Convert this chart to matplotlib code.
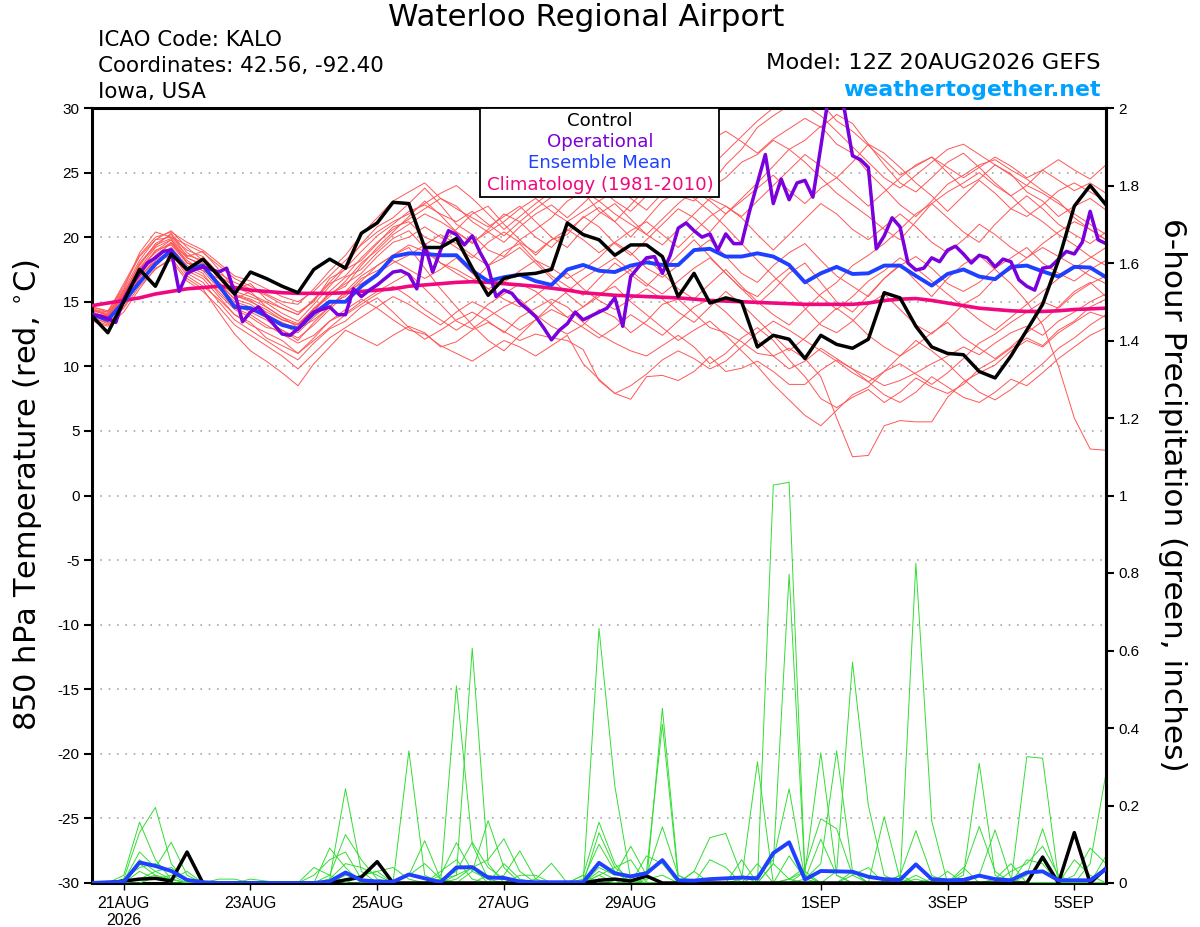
import numpy as np
import pandas as pd
import matplotlib
matplotlib.use('Agg')
import matplotlib.pyplot as plt
from matplotlib.patches import Rectangle

plt.rcParams['font.family'] = ['Liberation Sans', 'DejaVu Sans']
plt.rcParams['axes.unicode_minus'] = False
wide = ['DejaVu Sans']

# time axes: 6-hourly GEFS, 3-hourly operational run
times = pd.date_range('2026-08-20 12:00', periods=65, freq='6h')
times_op = pd.date_range('2026-08-20 12:00', periods=129, freq='3h')

tick_dates = pd.to_datetime(['2026-08-21', '2026-08-23', '2026-08-25', '2026-08-27',
                             '2026-08-29', '2026-09-01', '2026-09-03', '2026-09-05'])
tick_labels = ['21AUG\n2026', '23AUG', '25AUG', '27AUG', '29AUG', '1SEP', '3SEP', '5SEP']

# 850 hPa temperature (C)
t_control = [13.9, 12.6, 15.0, 17.5, 16.2, 18.7, 17.5, 18.3, 17.0, 15.6,
             17.3, 16.8, 16.2, 15.7, 17.5, 18.3, 17.6, 20.3, 21.1, 22.7,
             22.6, 19.2, 19.2, 19.9, 17.6, 15.5, 16.8, 17.1, 17.2, 17.5,
             21.1, 20.2, 19.8, 18.6, 19.4, 19.4, 18.5, 15.4, 17.2, 14.9,
             15.3, 15.0, 11.5, 12.4, 12.1, 10.6, 12.4, 11.7, 11.4, 12.1,
             15.7, 15.3, 13.1, 11.5, 11.0, 10.9, 9.6, 9.1, 10.8, 12.8,
             14.8, 18.2, 22.4, 24.0, 22.5]

t_mean = [14.0, 13.6, 15.0, 16.5, 17.9, 19.0, 17.5, 17.8, 16.3, 14.6,
          14.5, 13.9, 13.2, 12.9, 14.1, 15.0, 15.0, 16.2, 17.1, 18.5,
          18.75, 18.7, 18.6, 18.6, 17.4, 16.6, 16.9, 17.1, 16.6, 16.3,
          17.5, 17.85, 17.4, 17.3, 17.8, 18.05, 17.85, 17.85, 19.0, 19.1,
          18.5, 18.5, 18.75, 18.5, 17.85, 16.5, 17.2, 17.7, 17.15, 17.2,
          17.8, 17.8, 17.0, 16.25, 17.15, 17.5, 16.95, 16.75, 17.7, 17.8,
          17.35, 16.95, 17.7, 17.65, 16.9]

t_clim = [14.7, 14.9, 15.1, 15.3, 15.6, 15.8, 16.0, 16.1, 16.2, 16.1,
          15.9, 15.8, 15.7, 15.65, 15.65, 15.65, 15.7, 15.8, 15.9, 16.0,
          16.2, 16.3, 16.4, 16.5, 16.55, 16.5, 16.4, 16.3, 16.2, 16.05,
          15.9, 15.7, 15.6, 15.5, 15.45, 15.4, 15.35, 15.3, 15.2, 15.1,
          15.05, 15.0, 14.95, 14.9, 14.85, 14.8, 14.8, 14.8, 14.8, 14.9,
          15.1, 15.2, 15.25, 15.1, 14.9, 14.7, 14.5, 14.4, 14.3, 14.25,
          14.25, 14.3, 14.4, 14.45, 14.5]

t_oper = [14.0, 13.9, 13.7, 13.4, 15.2, 16.3, 17.2, 18.0, 18.4, 18.9,
          19.0, 15.8, 17.2, 17.5, 17.7, 17.5, 17.3, 17.6, 15.7, 13.45,
          14.2, 14.6, 13.9, 13.2, 12.5, 12.4, 12.9, 13.6, 14.2, 14.4,
          14.6, 14.0, 14.0, 16.0, 15.4, 15.9, 16.3, 16.8, 17.3, 17.4,
          17.1, 16.0, 19.4, 17.3, 19.0, 20.5, 20.2, 19.4, 20.1, 18.8,
          17.7, 15.4, 15.9, 15.65, 14.9, 14.4, 13.85, 13.0, 12.05, 12.8,
          13.3, 14.2, 13.6, 13.9, 14.2, 14.5, 15.3, 13.1, 16.95, 17.7,
          18.4, 18.5, 17.2, 18.6, 20.7, 21.1, 20.5, 20.0, 20.25, 19.0,
          20.25, 19.5, 19.5, 22.0, 24.2, 26.4, 22.6, 24.5, 22.9, 24.2,
          24.4, 23.1, 27.0, 31.0, 31.5, 29.8, 26.3, 26.0, 25.4, 19.1,
          20.1, 21.5, 20.8, 18.0, 17.45, 17.6, 18.4, 18.1, 19.0, 19.3,
          18.7, 18.0, 18.6, 18.4, 17.7, 18.3, 18.1, 16.7, 16.2, 15.9,
          17.6, 17.7, 18.3, 18.9, 18.7, 19.6, 22.0, 19.8, 19.5]

t_members = [
    [14.2, 13.8, 15.5, 17.8, 19.5, 20.2, 18.5, 18.9, 17.5, 16.0,
     16.4, 15.2, 14.5, 14.0, 15.2, 16.5, 17.8, 19.5, 20.8, 21.5,
     22.6, 23.8, 22.5, 21.0, 20.2, 19.0, 18.5, 19.8, 20.6, 21.5,
     22.8, 23.5, 22.0, 21.2, 22.5, 23.8, 24.6, 23.2, 22.8, 24.0,
     25.6, 26.8, 28.5, 29.4, 30.2, 31.0, 30.4, 29.0, 28.2, 27.1,
     26.0, 24.8, 25.5, 26.2, 25.0, 23.8, 24.5, 25.6, 24.9, 23.5,
     22.8, 21.6, 22.4, 23.0, 22.1],
    [13.9, 13.5, 14.8, 16.9, 18.2, 19.0, 17.6, 17.0, 15.8, 14.5,
     14.0, 13.2, 12.5, 11.8, 12.4, 13.5, 14.1, 15.0, 15.8, 16.5,
     17.2, 16.0, 14.8, 13.5, 12.9, 13.8, 14.6, 15.2, 14.0, 13.1,
     12.5, 13.2, 14.4, 13.8, 12.6, 13.5, 14.8, 15.2, 14.1, 13.0,
     12.6, 11.9, 11.0, 10.8, 11.4, 10.6, 9.2, 6.0, 3.0, 3.1,
     5.4, 5.8, 5.7, 5.7, 7.6, 8.8, 9.5, 10.1, 11.2, 12.0,
     11.5, 12.6, 13.4, 14.2, 13.8],
    [13.6, 13.2, 14.5, 16.2, 17.5, 18.4, 16.8, 16.0, 14.2, 12.5,
     11.2, 10.4, 9.5, 8.5, 10.2, 11.5, 12.8, 12.2, 11.6, 12.4,
     13.1, 12.6, 11.5, 11.9, 12.8, 13.4, 12.7, 12.0, 12.5, 12.2,
     12.0, 11.3, 8.9, 7.9, 7.45, 9.2, 9.3, 8.9, 9.6, 10.75,
     9.6, 9.85, 10.4, 9.6, 8.6, 8.6, 9.7, 10.5, 9.8, 9.2,
     8.5, 8.9, 9.5, 10.2, 10.8, 11.5, 10.9, 11.8, 12.6, 13.1,
     12.4, 13.5, 14.2, 15.0, 15.6],
    [14.5, 14.0, 15.8, 17.5, 18.9, 19.8, 18.0, 17.8, 16.5, 15.2,
     15.8, 14.6, 13.8, 13.0, 14.2, 15.8, 16.9, 17.5, 18.8, 19.9,
     20.5, 19.2, 18.0, 17.2, 16.5, 17.8, 18.9, 19.5, 18.2, 17.0,
     16.2, 15.5, 16.8, 18.0, 17.1, 16.2, 17.4, 18.6, 19.8, 18.5,
     17.2, 16.0, 14.8, 15.9, 17.2, 18.0, 16.5, 15.0, 14.2, 15.5,
     16.8, 17.9, 16.6, 15.4, 16.8, 17.9, 18.6, 17.5, 16.4, 15.0,
     13.2, 10.0, 6.0, 3.6, 3.5],
    [14.0, 13.7, 15.2, 17.0, 18.6, 19.5, 18.2, 17.4, 16.8, 15.5,
     15.0, 14.4, 13.6, 13.2, 14.5, 15.6, 16.2, 17.8, 19.2, 20.4,
     21.6, 22.8, 21.7, 20.4, 19.5, 20.6, 21.8, 21.2, 20.0, 19.2,
     20.5, 21.5, 22.3, 21.2, 20.0, 21.4, 22.8, 23.5, 24.6, 23.8,
     24.6, 25.8, 26.4, 27.5, 26.8, 25.8, 24.6, 23.4, 22.5, 21.6,
     20.6, 19.8, 21.2, 22.6, 21.5, 20.4, 19.6, 21.0, 22.2, 23.2,
     22.2, 21.0, 20.2, 19.5, 20.4],
    [14.3, 14.1, 15.9, 18.2, 19.8, 20.0, 19.0, 18.5, 17.2, 16.5,
     16.0, 15.5, 14.8, 14.2, 15.0, 16.8, 17.5, 18.2, 19.5, 20.8,
     21.2, 20.0, 19.5, 20.6, 21.8, 22.4, 21.0, 19.8, 18.6, 19.8,
     20.2, 21.6, 20.8, 19.5, 18.6, 19.8, 21.0, 22.2, 21.5, 20.4,
     21.8, 23.0, 24.2, 25.5, 26.8, 27.5, 28.6, 27.2, 26.5, 25.0,
     23.8, 22.5, 21.6, 22.8, 24.1, 24.8, 25.6, 26.0, 25.2, 24.5,
     23.6, 22.8, 21.5, 20.6, 19.8],
    [13.8, 13.3, 14.6, 16.5, 17.8, 18.9, 17.2, 16.5, 15.0, 13.6,
     12.8, 12.0, 11.2, 10.5, 11.8, 12.9, 13.5, 14.6, 15.3, 14.2,
     13.0, 12.1, 12.8, 13.6, 14.2, 13.5, 12.6, 13.8, 14.5, 15.2,
     14.6, 13.4, 12.5, 11.8, 11.2, 10.8, 11.6, 12.4, 11.5, 10.2,
     11.0, 12.2, 13.0, 12.0, 10.5, 9.2, 7.5, 6.8, 7.6, 8.2,
     7.2, 8.0, 9.1, 8.4, 7.9, 8.6, 9.8, 10.5, 11.4, 12.2,
     11.6, 12.8, 13.5, 14.6, 15.2],
    [14.1, 13.9, 15.4, 17.2, 19.0, 19.4, 18.0, 17.6, 16.2, 15.0,
     14.6, 13.9, 13.2, 12.6, 13.8, 14.9, 15.4, 16.6, 17.8, 18.6,
     19.4, 18.9, 18.0, 17.5, 16.8, 16.0, 16.5, 17.4, 18.2, 17.6,
     16.8, 17.5, 18.4, 19.6, 18.8, 17.6, 16.9, 17.8, 18.9, 19.8,
     18.5, 17.2, 16.5, 17.8, 18.8, 19.5, 18.2, 17.0, 16.2, 15.4,
     16.8, 17.8, 18.5, 17.6, 16.4, 15.8, 16.5, 17.6, 18.4, 19.2,
     18.0, 17.2, 16.6, 17.5, 18.2],
    [14.4, 14.2, 16.2, 18.5, 19.8, 20.5, 19.2, 18.2, 16.9, 15.8,
     15.4, 14.9, 14.1, 13.5, 14.8, 16.2, 17.6, 18.9, 20.1, 21.0,
     22.0, 22.5, 21.8, 21.2, 22.0, 21.0, 20.1, 21.2, 22.2, 23.1,
     24.0, 24.4, 23.6, 24.2, 23.0, 22.1, 23.4, 24.2, 23.0, 22.0,
     20.8, 19.5, 18.2, 17.0, 15.8, 14.5, 13.2, 12.6, 13.5, 14.8,
     15.6, 14.4, 13.2, 12.5, 13.6, 14.8, 15.5, 16.8, 17.5, 18.4,
     19.2, 18.5, 17.8, 17.0, 16.4],
    [14.0, 13.6, 15.0, 16.6, 18.0, 18.8, 17.0, 16.2, 15.2, 14.0,
     13.2, 12.6, 12.0, 11.0, 12.2, 13.5, 14.4, 15.2, 14.5, 13.6,
     12.8, 12.5, 11.6, 11.0, 10.4, 11.2, 12.0, 11.5, 10.8, 11.6,
     12.4, 10.2, 9.0, 7.9, 8.5, 9.4, 10.5, 11.2, 10.6, 9.8,
     10.4, 11.5, 12.6, 13.5, 12.8, 12.0, 11.2, 10.4, 9.5, 8.8,
     9.6, 10.2, 9.4, 8.6, 9.5, 10.6, 11.8, 12.5, 13.4, 14.2,
     15.0, 14.5, 15.6, 16.4, 17.0],
    [14.6, 14.3, 16.0, 18.8, 20.4, 20.0, 19.4, 18.8, 17.8, 16.8,
     16.2, 15.6, 15.0, 14.8, 16.0, 17.4, 18.6, 20.2, 21.5, 22.8,
     23.5, 24.2, 23.0, 22.2, 21.5, 20.8, 21.6, 22.4, 21.2, 20.0,
     19.2, 20.6, 21.8, 22.6, 21.4, 20.2, 19.4, 20.6, 21.8, 23.0,
     22.4, 21.6, 22.8, 24.0, 25.2, 26.4, 25.5, 24.6, 25.8, 27.2,
     26.5, 25.4, 24.2, 23.2, 22.0, 23.2, 24.4, 23.4, 22.2, 21.6,
     22.5, 23.6, 24.2, 23.5, 22.8],
    [14.0, 13.4, 15.1, 17.4, 18.5, 19.2, 17.8, 17.2, 15.6, 14.4,
     13.8, 13.0, 12.8, 12.2, 13.2, 14.4, 15.6, 16.8, 17.4, 18.2,
     17.5, 16.8, 17.5, 18.4, 17.2, 16.0, 15.2, 14.6, 15.5, 16.4,
     17.2, 16.0, 15.1, 14.4, 15.2, 16.0, 15.2, 14.2, 13.4, 14.6,
     15.8, 14.8, 13.6, 12.4, 11.2, 12.2, 13.4, 14.5, 13.6, 12.4,
     11.5, 10.8, 11.6, 12.6, 13.4, 12.2, 11.4, 10.6, 11.5, 12.6,
     13.5, 14.6, 15.8, 16.5, 15.4],
    [13.7, 13.4, 14.9, 16.8, 18.4, 19.6, 18.4, 17.8, 16.4, 15.2,
     14.8, 14.0, 13.4, 12.9, 13.6, 14.6, 15.8, 16.4, 17.2, 18.0,
     18.6, 19.4, 20.2, 19.5, 18.6, 17.8, 18.4, 19.2, 18.0, 16.8,
     15.6, 14.6, 15.4, 16.6, 17.5, 18.4, 17.2, 16.0, 15.2, 16.4,
     17.5, 16.2, 15.0, 14.0, 13.2, 14.4, 15.6, 16.5, 17.8, 18.6,
     19.5, 20.6, 21.8, 22.6, 23.5, 24.2, 25.0, 24.0, 23.2, 22.0,
     21.2, 20.2, 19.4, 18.5, 17.8],
    [14.3, 14.0, 15.7, 17.9, 19.3, 20.3, 18.8, 18.0, 17.0, 16.2,
     15.6, 15.0, 14.5, 14.0, 15.1, 16.4, 17.0, 18.4, 19.6, 20.6,
     21.4, 22.2, 23.0, 22.4, 21.2, 20.4, 19.6, 20.8, 21.8, 22.5,
     21.5, 22.6, 23.8, 22.8, 22.0, 23.2, 24.0, 25.2, 26.4, 27.5,
     28.2, 27.4, 26.5, 27.6, 28.4, 29.2, 28.5, 29.5, 28.8, 27.2,
     25.6, 24.2, 23.5, 24.6, 25.8, 26.5, 25.4, 24.2, 23.2, 24.0,
     25.2, 26.0, 25.2, 24.5, 25.6],
    [13.5, 13.1, 14.2, 16.0, 17.6, 18.2, 16.6, 15.8, 14.6, 13.2,
     12.4, 11.6, 10.8, 9.8, 11.0, 12.2, 13.0, 13.8, 14.6, 15.4,
     14.8, 14.0, 13.2, 14.2, 15.0, 14.4, 13.6, 12.8, 13.6, 14.4,
     13.8, 13.0, 12.2, 13.0, 14.0, 13.2, 12.4, 13.5, 14.6, 15.2,
     14.2, 13.0, 12.0, 10.8, 9.8, 10.4, 11.4, 10.6, 9.8, 8.8,
     7.8, 7.2, 8.0, 9.2, 8.4, 7.6, 7.2, 8.0, 9.0, 8.5,
     9.5, 10.6, 11.5, 12.4, 13.0],
    [14.2, 13.8, 15.6, 17.6, 19.2, 19.8, 18.4, 17.9, 16.5, 15.5,
     15.1, 14.2, 13.6, 13.2, 14.4, 15.6, 16.4, 17.2, 18.5, 19.6,
     20.0, 20.8, 20.0, 19.2, 18.4, 19.6, 20.4, 19.6, 18.8, 19.8,
     20.6, 19.8, 18.8, 19.6, 20.5, 21.2, 20.2, 19.2, 20.4, 21.6,
     22.4, 21.5, 20.2, 19.0, 20.2, 21.4, 22.6, 21.8, 20.6, 19.8,
     20.8, 21.8, 20.8, 19.6, 18.8, 19.8, 21.0, 20.2, 19.2, 18.4,
     19.5, 20.4, 21.2, 20.6, 19.8],
    [13.9, 13.6, 15.2, 17.0, 18.1, 18.6, 17.4, 16.8, 15.4, 14.0,
     13.4, 12.2, 11.6, 11.0, 12.0, 13.0, 14.0, 14.8, 15.6, 16.2,
     15.4, 14.4, 13.6, 12.8, 13.6, 14.8, 15.6, 16.4, 15.8, 14.8,
     13.8, 14.6, 15.6, 16.2, 15.0, 14.0, 13.0, 12.0, 12.8, 13.5,
     12.4, 11.2, 10.0, 8.6, 7.4, 6.2, 5.4, 6.6, 7.8, 8.4,
     9.6, 10.8, 12.0, 11.2, 10.2, 9.0, 8.0, 7.4, 8.2, 9.2,
     10.2, 11.4, 12.2, 13.2, 14.0],
    [14.1, 13.9, 15.6, 18.0, 19.4, 19.9, 18.6, 18.2, 16.8, 15.6,
     15.2, 14.6, 13.8, 13.3, 14.4, 15.4, 16.6, 18.0, 19.0, 20.2,
     21.0, 21.8, 21.2, 20.4, 19.6, 20.4, 21.2, 22.2, 23.0, 22.0,
     21.2, 22.0, 22.8, 21.8, 21.0, 20.2, 21.4, 22.6, 23.6, 22.8,
     21.8, 22.8, 23.8, 24.8, 23.6, 22.6, 23.8, 24.6, 23.5, 22.4,
     23.5, 24.6, 25.6, 26.2, 25.4, 24.6, 25.4, 26.2, 25.5, 24.6,
     25.2, 24.4, 23.6, 24.2, 23.4],
    [14.4, 13.9, 15.3, 17.6, 18.8, 19.6, 18.0, 17.4, 16.0, 14.8,
     14.2, 13.6, 12.8, 12.0, 13.4, 14.6, 15.8, 17.0, 17.8, 18.6,
     19.2, 17.6, 16.0, 14.6, 13.2, 12.0, 11.2, 12.4, 13.6, 14.8,
     15.8, 16.8, 17.6, 18.4, 17.4, 16.4, 15.6, 16.6, 17.6, 18.4,
     17.2, 16.0, 15.4, 16.6, 17.6, 16.6, 15.4, 14.4, 15.4, 16.6,
     17.4, 18.4, 17.6, 16.6, 15.6, 14.6, 13.6, 12.8, 13.8, 14.8,
     15.8, 16.8, 17.6, 18.4, 19.2],
    [14.6, 14.2, 16.4, 18.6, 20.0, 20.4, 19.6, 19.0, 18.0, 17.0,
     16.6, 16.0, 15.4, 15.0, 15.8, 17.0, 18.2, 19.4, 20.4, 21.2,
     21.8, 22.6, 23.4, 24.0, 23.0, 21.8, 20.6, 21.6, 22.6, 23.5,
     24.4, 23.6, 22.8, 23.6, 24.8, 25.5, 26.0, 25.2, 24.4, 25.4,
     26.6, 27.8, 29.0, 30.0, 31.0, 30.2, 29.4, 28.2, 27.0, 25.8,
     24.6, 23.8, 24.8, 25.8, 26.8, 27.2, 26.4, 25.6, 24.8, 24.0,
     23.4, 22.6, 21.8, 21.0, 20.2],
]

# 6-hour precipitation (inches)
p_control = [0, 0, 0.005, 0.01, 0.012, 0.005, 0.08, 0, 0, 0,
             0, 0, 0, 0, 0, 0, 0.008, 0.015, 0.055, 0,
             0, 0, 0, 0, 0, 0, 0, 0, 0, 0,
             0, 0, 0.007, 0.01, 0.005, 0.018, 0, 0, 0, 0,
             0, 0, 0, 0, 0, 0, 0, 0, 0, 0,
             0, 0, 0, 0, 0, 0, 0, 0, 0, 0,
             0.067, 0, 0.13, 0, 0.038]

p_mean = [0, 0.002, 0.003, 0.053, 0.044, 0.031, 0.008, 0.002, 0, 0,
          0, 0, 0, 0, 0, 0.004, 0.027, 0.007, 0.004, 0.003,
          0.022, 0.012, 0.002, 0.040, 0.041, 0.014, 0.013, 0.004, 0.002, 0.002,
          0.002, 0.002, 0.052, 0.025, 0.017, 0.025, 0.059, 0.007, 0.006, 0.010,
          0.012, 0.014, 0.012, 0.077, 0.105, 0.009, 0.031, 0.030, 0.029, 0.016,
          0.010, 0.008, 0.048, 0.010, 0.007, 0.008, 0.019, 0.010, 0.007, 0.027,
          0.030, 0.007, 0.007, 0.007, 0.036]

p_members = [
    [0, 0, 0.02, 0.157, 0.06, 0.01, 0, 0, 0, 0,
     0, 0, 0, 0, 0, 0.09, 0.04, 0, 0, 0,
     0, 0, 0, 0.509, 0.1, 0.01, 0, 0, 0, 0,
     0, 0, 0.657, 0.25, 0.01, 0, 0, 0, 0, 0,
     0, 0, 0, 1.027, 1.034, 0.02, 0, 0, 0, 0,
     0, 0, 0.825, 0.16, 0, 0, 0, 0, 0, 0,
     0, 0, 0, 0, 0],
    [0, 0, 0.01, 0.13, 0.195, 0.05, 0, 0, 0, 0,
     0, 0, 0, 0, 0, 0.01, 0.243, 0.03, 0, 0,
     0, 0, 0, 0.02, 0.606, 0.05, 0, 0, 0, 0,
     0, 0, 0.02, 0, 0, 0, 0.451, 0.02, 0, 0,
     0, 0, 0, 0.05, 0.797, 0.02, 0, 0.03, 0.57, 0.2,
     0.02, 0, 0, 0, 0, 0, 0, 0, 0, 0.326,
     0.322, 0.01, 0, 0, 0],
    [0, 0, 0.005, 0.08, 0.04, 0.105, 0.02, 0, 0, 0,
     0, 0, 0, 0, 0, 0.02, 0.125, 0.06, 0.01, 0,
     0.341, 0.02, 0, 0, 0, 0, 0, 0, 0, 0,
     0, 0, 0.01, 0, 0.02, 0.03, 0.41, 0.01, 0, 0,
     0, 0.01, 0.313, 0, 0, 0, 0, 0, 0, 0,
     0, 0, 0, 0, 0, 0.02, 0.309, 0.02, 0, 0,
     0, 0, 0, 0.05, 0.283],
    [0, 0, 0, 0.06, 0.03, 0.01, 0.03, 0, 0, 0,
     0, 0, 0, 0, 0.02, 0.06, 0.08, 0.01, 0, 0,
     0.02, 0.109, 0.01, 0, 0.03, 0.161, 0.04, 0, 0, 0,
     0, 0.02, 0.157, 0.05, 0, 0, 0, 0, 0, 0,
     0, 0, 0, 0, 0.01, 0.03, 0.336, 0.02, 0, 0,
     0.171, 0.01, 0, 0, 0, 0, 0, 0, 0, 0.02,
     0.14, 0.01, 0, 0, 0],
    [0, 0, 0.01, 0.04, 0.05, 0.03, 0.01, 0, 0, 0,
     0, 0, 0, 0, 0, 0.01, 0.05, 0.04, 0.02, 0,
     0, 0, 0.01, 0.02, 0.04, 0.06, 0.114, 0.03, 0, 0,
     0, 0, 0.13, 0.04, 0.01, 0, 0, 0, 0, 0,
     0, 0, 0, 0, 0, 0.01, 0.05, 0.341, 0.03, 0,
     0, 0.02, 0.135, 0.02, 0, 0, 0.02, 0.137, 0.01, 0,
     0, 0, 0, 0, 0],
    [0, 0, 0, 0.01, 0.03, 0.04, 0.01, 0, 0, 0,
     0, 0, 0, 0, 0, 0, 0.02, 0.01, 0, 0,
     0, 0, 0.02, 0.104, 0.03, 0.01, 0.02, 0.083, 0.01, 0,
     0, 0, 0.04, 0.02, 0.095, 0.02, 0, 0, 0.03, 0.117,
     0.128, 0.02, 0, 0, 0.01, 0.04, 0.166, 0.14, 0.02, 0,
     0, 0, 0, 0.01, 0, 0.03, 0.146, 0.03, 0, 0,
     0, 0, 0.02, 0.09, 0.05],
    [0, 0, 0, 0.05, 0.02, 0.01, 0, 0, 0, 0,
     0, 0, 0, 0, 0, 0, 0.01, 0.02, 0.03, 0.04,
     0.01, 0, 0.01, 0.03, 0.105, 0.04, 0.01, 0, 0.01, 0.051,
     0, 0.01, 0.10, 0.03, 0, 0.01, 0.02, 0, 0, 0,
     0, 0, 0.02, 0.06, 0.243, 0.01, 0.113, 0.02, 0, 0,
     0, 0, 0.02, 0, 0, 0, 0, 0, 0.03, 0.05,
     0.095, 0.02, 0, 0, 0],
    [0, 0, 0, 0.03, 0.01, 0.02, 0, 0, 0.01, 0.01,
     0, 0, 0, 0, 0.04, 0.02, 0, 0, 0, 0,
     0, 0, 0.03, 0.06, 0.01, 0, 0, 0.02, 0.02, 0,
     0, 0, 0.03, 0.01, 0, 0.02, 0.145, 0.02, 0, 0.06,
     0.04, 0, 0, 0.05, 0.01, 0, 0, 0, 0.02, 0.04,
     0, 0, 0.01, 0, 0, 0, 0, 0.01, 0.05, 0,
     0, 0, 0.06, 0.02, 0],
    [0, 0, 0, 0.01, 0.02, 0, 0, 0, 0, 0,
     0.01, 0.005, 0, 0, 0, 0, 0, 0.02, 0.03, 0,
     0.02, 0.05, 0.01, 0, 0, 0.02, 0.01, 0, 0, 0,
     0, 0, 0.02, 0.04, 0.06, 0, 0, 0, 0.03, 0,
     0, 0, 0.05, 0, 0.07, 0.01, 0, 0, 0.03, 0,
     0, 0, 0, 0, 0, 0.04, 0, 0, 0, 0.06,
     0.05, 0, 0, 0, 0],
    [0, 0, 0, 0, 0.015, 0.01, 0, 0, 0, 0,
     0, 0, 0, 0, 0, 0, 0.03, 0.01, 0, 0,
     0, 0, 0, 0.01, 0.04, 0, 0.05, 0.01, 0, 0,
     0, 0.02, 0, 0, 0, 0.07, 0.05, 0, 0, 0,
     0, 0.06, 0, 0, 0, 0.03, 0, 0, 0, 0,
     0, 0.02, 0, 0, 0.03, 0, 0, 0, 0, 0,
     0.06, 0, 0, 0, 0.07],
]

fig = plt.figure(figsize=(12, 9.27), dpi=100)
ax = fig.add_axes([92 / 1200, 44 / 927, 1014 / 1200, 775 / 927])
ax2 = ax.twinx()

# temperatures
for m in t_members:
    ax.plot(times, m, color='#ff5656', lw=0.7, zorder=2)
ax.plot(times, t_clim, color='#f0087f', lw=2.6, zorder=3)
ax.plot(times, t_mean, color='#2040ff', lw=2.8, zorder=4)
ax.plot(times_op, t_oper, color='#7a00dc', lw=2.5, zorder=5)
ax.plot(times, t_control, color='black', lw=2.5, zorder=6)

# precipitation
for m in p_members:
    ax2.plot(times, m, color='#33dd33', lw=0.7, zorder=2)
ax2.plot(times, p_control, color='black', lw=2.5, zorder=4)
ax2.plot(times, p_mean, color='#2040ff', lw=2.8, zorder=5)

ax.set_xlim(times[0], times[-1])
ax.set_ylim(-30, 30)
ax2.set_ylim(0, 2)
ax.set_yticks(np.arange(-30, 31, 5))
ax2.set_yticks(np.arange(0, 2.01, 0.2))
ax2.set_yticklabels(['0', '0.2', '0.4', '0.6', '0.8', '1', '1.2', '1.4', '1.6', '1.8', '2'])
ax.set_xticks(tick_dates)
ax.set_xticklabels(tick_labels, fontsize=11.5)

ax.yaxis.grid(True, linestyle=(0, (1, 4)), color='#a8a8a8', lw=1.2)
ax.set_axisbelow(True)

for s in ax.spines.values():
    s.set_linewidth(2.2)
for s in ['top', 'left', 'bottom']:
    ax2.spines[s].set_visible(False)
ax2.spines['right'].set_linewidth(2.2)

ax.tick_params(axis='y', direction='out', length=6, width=1.5, labelsize=11, pad=3)
ax.tick_params(axis='x', direction='out', length=5, width=1.0, pad=4)
ax2.tick_params(axis='y', direction='out', length=6, width=1.5, labelsize=11, pad=3)

# titles and labels
fig.text(586 / 1200, 1 - 18 / 927, 'Waterloo Regional Airport', ha='center', va='center',
         fontsize=22.2, family=wide)
fig.text(98 / 1200, 1 - 40 / 927, 'ICAO Code: KALO', ha='left', va='center', fontsize=15.4, family=wide)
fig.text(98 / 1200, 1 - 66 / 927, 'Coordinates: 42.56, -92.40', ha='left', va='center',
         fontsize=15.4, family=wide)
fig.text(98 / 1200, 1 - 92 / 927, 'Iowa, USA', ha='left', va='center', fontsize=15.4, family=wide)
fig.text(1101 / 1200, 1 - 63 / 927, 'Model: 12Z 20AUG2026 GEFS', ha='right', va='center',
         fontsize=16.2, family=wide)
fig.text(1101 / 1200, 1 - 90 / 927, 'weathertogether.net', ha='right', va='center', fontsize=15.8,
         fontweight='bold', color='#00a2ff', family=wide)

fig.text(28 / 1200, 1 - 495 / 927, '850 hPa Temperature (red, $^{\\circ}$C)', rotation=90,
         ha='center', va='center', fontsize=22, family=wide)
fig.text(1172 / 1200, 1 - 495 / 927, '6-hour Precipitation (green, inches)', rotation=270,
         ha='center', va='center', fontsize=22.5, family=wide)

# legend box
fig.patches.append(Rectangle((480 / 1200, 1 - 197 / 927), 239 / 1200, 89 / 927,
                             transform=fig.transFigure, facecolor='white',
                             edgecolor='black', lw=1.3, zorder=5))
leg_items = [('Control', 'black', 121), ('Operational', '#7a00dc', 142),
             ('Ensemble Mean', '#2040ff', 163), ('Climatology (1981-2010)', '#f0087f', 185)]
for txt, col, ypix in leg_items:
    fig.text(600 / 1200, 1 - ypix / 927, txt, ha='center', va='center', fontsize=13.1,
             color=col, zorder=6, family=wide)

fig.savefig('out.png', dpi=100)
